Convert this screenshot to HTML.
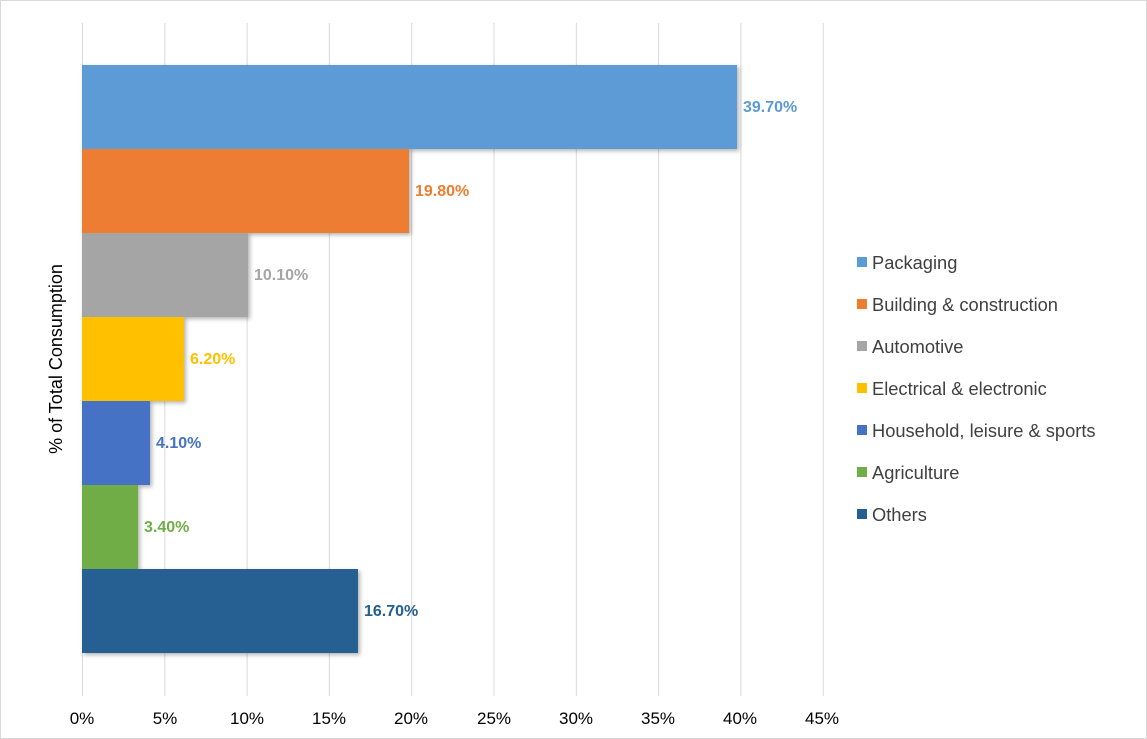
<!DOCTYPE html>
<html><head><meta charset="utf-8"><style>
html,body{margin:0;padding:0;background:#fff}
svg{display:block;font-family:"Liberation Sans",Arial,sans-serif}
</style></head><body>
<svg width="1147" height="739" viewBox="0 0 1147 739" xmlns="http://www.w3.org/2000/svg">
<defs><filter id="sh" x="-5%" y="-5%" width="115%" height="115%"><feDropShadow dx="2" dy="2" stdDeviation="2" flood-color="#000" flood-opacity="0.3"/></filter></defs>
<rect x="0.5" y="0.5" width="1146" height="738" fill="#fff" stroke="#d9d9d9"/>
<g stroke="#d9d9d9" stroke-width="1">
<line x1="82.5" y1="23" x2="82.5" y2="696"/>
<line x1="164.8" y1="23" x2="164.8" y2="696"/>
<line x1="247.1" y1="23" x2="247.1" y2="696"/>
<line x1="329.4" y1="23" x2="329.4" y2="696"/>
<line x1="411.7" y1="23" x2="411.7" y2="696"/>
<line x1="494" y1="23" x2="494" y2="696"/>
<line x1="576.3" y1="23" x2="576.3" y2="696"/>
<line x1="658.6" y1="23" x2="658.6" y2="696"/>
<line x1="740.9" y1="23" x2="740.9" y2="696"/>
<line x1="823.2" y1="23" x2="823.2" y2="696"/>
</g>
<g filter="url(#sh)">
<rect x="82" y="65" width="655" height="84" fill="#5b9bd5"/>
<rect x="82" y="149" width="327" height="84" fill="#ed7d31"/>
<rect x="82" y="233" width="166" height="84" fill="#a5a5a5"/>
<rect x="82" y="317" width="102" height="84" fill="#ffc000"/>
<rect x="82" y="401" width="68" height="84" fill="#4472c4"/>
<rect x="82" y="485" width="56" height="84" fill="#70ad47"/>
<rect x="82" y="569" width="276" height="84" fill="#255e91"/>
</g>
<g font-size="16" font-weight="bold">
<text x="743" y="112" fill="#5b9bd5">39.70%</text>
<text x="415" y="196" fill="#ed7d31">19.80%</text>
<text x="254" y="280" fill="#a5a5a5">10.10%</text>
<text x="190" y="364" fill="#ffc000">6.20%</text>
<text x="156" y="448" fill="#4472c4">4.10%</text>
<text x="144" y="532" fill="#70ad47">3.40%</text>
<text x="364" y="616" fill="#255e91">16.70%</text>
</g>
<g font-size="17" fill="#000" text-anchor="middle">
<text x="82" y="724">0%</text>
<text x="165" y="724">5%</text>
<text x="247" y="724">10%</text>
<text x="329" y="724">15%</text>
<text x="411" y="724">20%</text>
<text x="494" y="724">25%</text>
<text x="576" y="724">30%</text>
<text x="658" y="724">35%</text>
<text x="740" y="724">40%</text>
<text x="822" y="724">45%</text>
</g>
<text transform="translate(62,359) rotate(-90)" font-size="18" text-anchor="middle" fill="#000">% of Total Consumption</text>
<g font-size="18.3" fill="#404040">
<rect x="857" y="257" width="10" height="10" fill="#5b9bd5"/><text x="872" y="269">Packaging</text>
<rect x="857" y="299" width="10" height="10" fill="#ed7d31"/><text x="872" y="311">Building &amp; construction</text>
<rect x="857" y="341" width="10" height="10" fill="#a5a5a5"/><text x="872" y="353">Automotive</text>
<rect x="857" y="383" width="10" height="10" fill="#ffc000"/><text x="872" y="395">Electrical &amp; electronic</text>
<rect x="857" y="425" width="10" height="10" fill="#4472c4"/><text x="872" y="437">Household, leisure &amp; sports</text>
<rect x="857" y="467" width="10" height="10" fill="#70ad47"/><text x="872" y="479">Agriculture</text>
<rect x="857" y="509" width="10" height="10" fill="#255e91"/><text x="872" y="521">Others</text>
</g>
</svg>
</body></html>
